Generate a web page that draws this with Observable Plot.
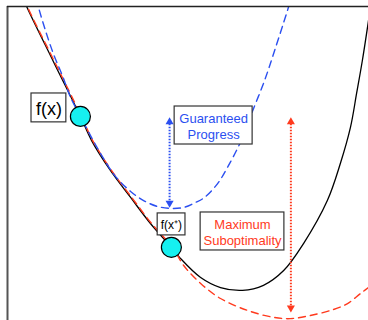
<!DOCTYPE html>
<html><head><meta charset="utf-8">
<script src="https://cdn.jsdelivr.net/npm/d3@7"></script>
<script src="https://cdn.jsdelivr.net/npm/@observablehq/plot@0.6"></script>
<style>body{margin:0;background:#fff}</style>
</head><body><div id="chart"></div>
<script>
// true function f (black)
const fCurve = [[4.4,102.6],[5.3,100],[12.7,82.5],[20.2,65.0],[23.3,57.3],[28.5,47.8],[34.1,39.2],[39.6,30.9],[45.4,23.3],[47.9,19.8],[53.5,13.7],[59.0,10.5],[65.1,9.6],[70.9,11.2],[76.5,15.9],[82.0,24.5],[88.6,38.2],[92.2,50.0],[95.0,61.5],[96.7,72.3],[98.3,82.8],[100.0,95.5],[100.6,100.3]];
// quadratic upper bound (blue dashed)
const upperCurve = [[8.0,102.5],[8.6,99.7],[10.5,92.4],[12.7,85.0],[15.2,78.0],[17.5,71.0],[20.2,65.0],[23.6,57.6],[26.6,51.6],[29.9,45.9],[34.1,41.1],[37.7,38.2],[41.6,36.3],[45.2,35.7],[48.8,36.0],[52.1,37.6],[54.6,39.2],[58.2,43.6],[60.9,48.7],[64.5,56.7],[67.6,65.9],[71.2,76.4],[74.0,86.0],[77.3,97.8],[78.4,101.9]];
// quadratic lower bound (red dashed)
const lowerCurve = [[4.7,102.6],[5.5,100],[13.0,82.5],[20.5,65.0],[23.6,57.3],[28.8,47.8],[34.4,39.2],[39.9,30.9],[45.7,23.3],[48.8,17.5],[53.5,11.8],[59.0,7.0],[66.5,3.2],[73.7,1.0],[78.4,0.6],[83.9,1.6],[90.3,3.5],[94.2,5.4],[97.8,8.6],[101.1,11.5]];
// points x and x+
const pointX = [20.2, 45.4];
const pointY = [65.0, 23.3];
// arrows
const arrowX = [44.9, 78.5];
const arrowTop = [64.7, 64.7];
const arrowBottom = [36.0, 2.6];
const arrowColor = ["#2b4ff0", "#ff3a1e"];
// labels
const labelText = ["f(x)", "Guaranteed\nProgress", "f(x\u207A)", "Maximum\nSuboptimality"];
const labelX = [11.5, 57.1, 45.4, 65.1];
const labelY = [67.7, 62.1, 30.6, 28.3];
const labelColor = ["#000", "#2b4ff0", "#000", "#ff3a1e"];
const labelSize = [18, 13, 12, 13];
const boxX1 = [6.65, 46.3, 41.6, 53.5];
const boxX2 = [16.3, 67.9, 49.3, 76.7];
const boxY1 = [63.1, 56.05, 27.1, 22.3];
const boxY2 = [72.3, 68.15, 34.1, 34.4];

const arrows = arrowX.map((x, i) => ({x, top: arrowTop[i], bottom: arrowBottom[i], c: arrowColor[i]}));
const labels = labelText.map((t, i) => ({t, x: labelX[i], y: labelY[i], c: labelColor[i], s: labelSize[i], x1: boxX1[i], x2: boxX2[i], y1: boxY1[i], y2: boxY2[i]}));
const pts = pointX.map((x, i) => ({x, y: pointY[i]}));

const marks = [
  Plot.line(fCurve, {x: d => d[0], y: d => d[1], curve: "catmull-rom", stroke: "#000", strokeWidth: 1.3, clip: true}),
  Plot.line(lowerCurve, {x: d => d[0], y: d => d[1], curve: "catmull-rom", stroke: "#ff3a1e", strokeWidth: 1.4, strokeDasharray: "7,5", clip: true}),
  Plot.line(upperCurve, {x: d => d[0], y: d => d[1], curve: "catmull-rom", stroke: "#2b4ff0", strokeWidth: 1.4, strokeDasharray: "7,5", clip: true}),
  Plot.ruleX(arrows, {x: "x", y1: d => d.top, y2: d => d.bottom, stroke: "c", strokeWidth: 2, strokeDasharray: "1.5,1.5", insetTop: 4, insetBottom: 4}),
  Plot.dot(arrows, {x: "x", y: "top", symbol: "triangle", r: 3, fill: "c", stroke: "none", dy: 4.5}),
  Plot.dot(arrows, {x: "x", y: "bottom", symbol: "triangle", r: 3, fill: "c", stroke: "none", dy: -4.5, rotate: 180}),
  Plot.rect(labels, {x1: "x1", x2: "x2", y1: "y1", y2: "y2", fill: "white", stroke: "#333", strokeWidth: 1.2}),
  ...labels.map(l => Plot.text([l], {x: "x", y: "y", text: "t", fill: "c", fontSize: l.s, lineHeight: 1.23, textAnchor: "middle"})),
  Plot.dot(pts, {x: "x", y: "y", r: 10, fill: "#16f0f0", stroke: "#000", strokeWidth: 1.2}),
  Plot.ruleX([0], {stroke: "#555", strokeWidth: 2}),
  Plot.ruleY([100], {stroke: "#222", strokeWidth: 1.4})
];

const chart = Plot.plot({
  width: 368, height: 320,
  marginLeft: 7, marginRight: 0, marginTop: 6, marginBottom: 0,
  x: {domain: [0, 100], axis: null},
  y: {domain: [0, 100], axis: null},
  style: {fontFamily: "'Liberation Sans', Arial, Helvetica, sans-serif", background: "white", overflow: "visible"},
  marks
});
document.getElementById("chart").appendChild(chart);
</script>
</body></html>
